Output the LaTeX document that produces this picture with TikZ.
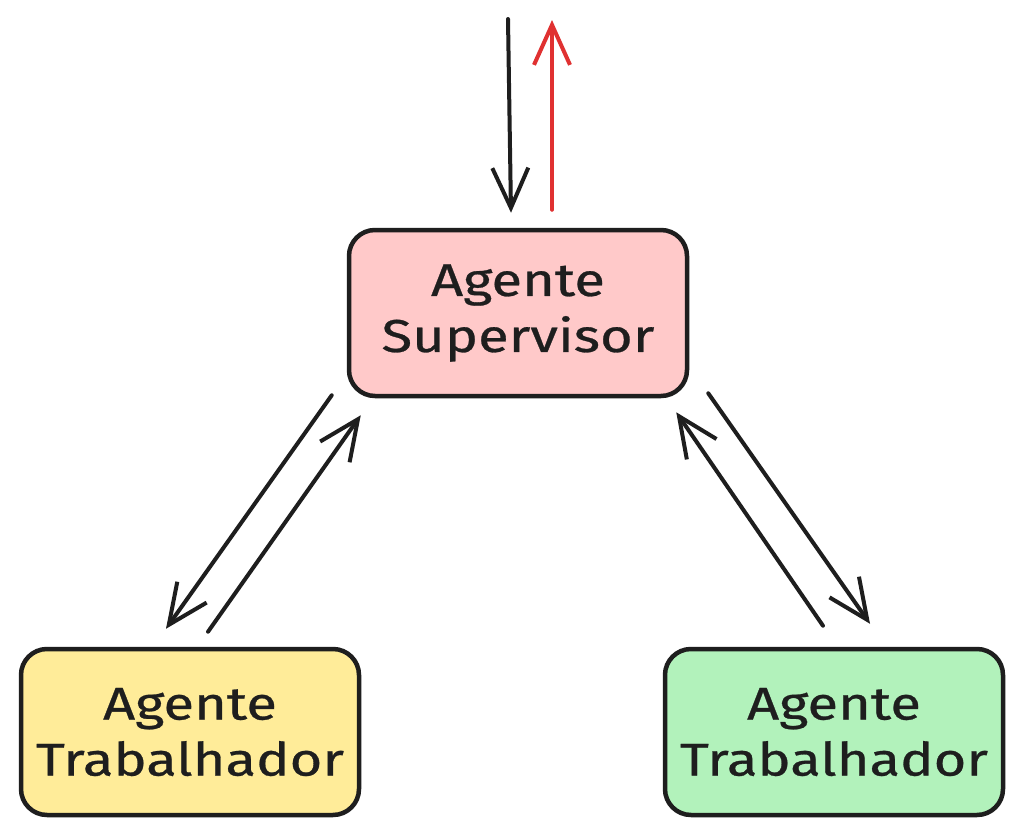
\documentclass[tikz,border=0pt]{standalone}
\usepackage{fontspec}
\setmainfont[FakeStretch=1.22,FakeBold=0.6]{Fira Sans}
\usetikzlibrary{arrows.meta,calc}
\definecolor{supfill}{HTML}{FFC9C9}
\definecolor{wyfill}{HTML}{FFEC99}
\definecolor{wgfill}{HTML}{B2F2BB}
\definecolor{redarr}{HTML}{E03131}
\definecolor{ink}{HTML}{1E1E1E}
\begin{document}
\begin{tikzpicture}[x=1pt,y=-1pt,
  box/.style={draw=ink,line width=4.5pt,rounded corners=26pt,minimum width=338pt,minimum height=166pt,
    align=center,inner sep=0pt,font=\fontsize{46}{56}\selectfont,text=ink},
  arr/.style={draw=ink,line width=4pt,line cap=round,
    -{Straight Barb[length=40pt 0 0,width=36pt 0 0,line width=4pt]}},
  redarrow/.style={arr,draw=redarr}]
\useasboundingbox[fill=white] (0,0) rectangle (1023,838);
\node[box,fill=supfill] (sup) at (518,313) {Agente\\Supervisor};
\node[box,fill=wyfill] (w1) at (190,732) {Agente\\Trabalhador};
\node[box,fill=wgfill] (w2) at (834,732) {Agente\\Trabalhador};
\coordinate (intop) at (508,19);
\coordinate (outtop) at (552,20);
\draw[arr] (intop) -- ($(sup.north)+(-7,-15)$);
\draw[redarrow] ($(sup.north)+(34,-18)$) -- (outtop);
\draw[arr] ($(sup.south west)+(-15,-3)$) -- ($(w1.north)+(-24,-18)$);
\draw[arr] ($(w1.north)+(18,-15)$) -- ($(sup.south west)+(14,17)$);
\draw[arr] ($(w2.north)+(-11,-21)$) -- ($(sup.south east)+(-13,14)$);
\draw[arr] ($(sup.south east)+(19,-5)$) -- ($(w2.north)+(36,-23)$);
\end{tikzpicture}
\end{document}
